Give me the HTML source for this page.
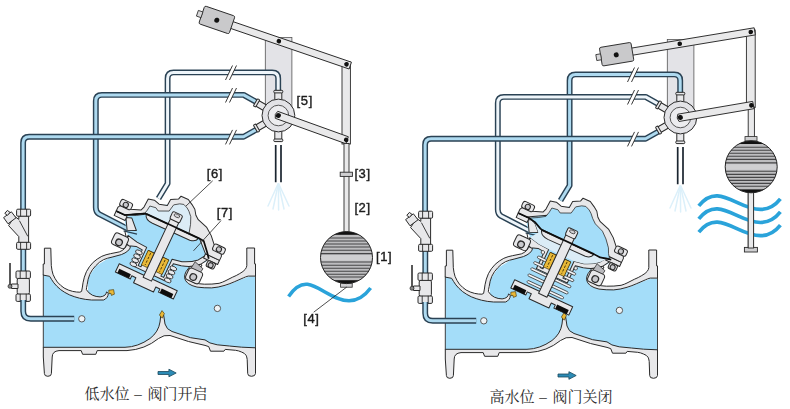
<!DOCTYPE html>
<html>
<head>
<meta charset="utf-8">
<title>Float valve diagram</title>
<style>
html,body{margin:0;padding:0;background:#fff;}
body{width:790px;height:409px;overflow:hidden;font-family:"Liberation Sans",sans-serif;}
svg{display:block;}
.lbl{font-family:"Liberation Sans",sans-serif;font-size:13px;fill:#1c1c1c;stroke:#1c1c1c;stroke-width:0.4;letter-spacing:0.6px;}
.cap{font-family:"Liberation Serif","Noto Serif CJK SC",serif;font-size:15px;fill:#2b2b2b;}
.m{fill:#e8e8ea;stroke:#2a2a2a;stroke-width:1;stroke-linejoin:round;}
.w{fill:#a4ddf9;}
.ol{fill:none;stroke:#2a2a2a;stroke-width:0.9;stroke-linejoin:round;stroke-linecap:round;}
.to{fill:none;stroke:#2a4254;stroke-width:5.9;stroke-linejoin:round;}
.ti{fill:none;stroke:currentColor;stroke-width:3;stroke-linejoin:round;}
.arm{fill:#e9e9ea;stroke:#2a2a2a;stroke-width:0.9;}
.dot{fill:#111;}
</style>
</head>
<body>
<svg width="790" height="409" viewBox="0 0 790 409">
<defs>
<filter id="nf" x="-5%" y="-5%" width="110%" height="110%"><feOffset dx="0" dy="0"/></filter>

  <!-- TUBES (individually colourable through currentColor) -->
  <g id="tubeC"><path class="to" d="M158.5,198.5 L167.6,183.5 V78.4 Q167.6,72.4 173.6,72.4 H272.2 Q278.2,72.4 278.2,78.4 V92"/><path class="ti" stroke="currentColor" d="M158.5,198.5 L167.6,183.5 V78.4 Q167.6,72.4 173.6,72.4 H272.2 Q278.2,72.4 278.2,78.4 V92"/></g>
  <g id="tubeB"><path class="to" d="M134,232 L99,214 Q95.8,212 95.8,207.5 V100.9 Q95.8,94.9 101.8,94.9 H243.6 L257,102.4"/><path class="ti" stroke="currentColor" d="M134,232 L99,214 Q95.8,212 95.8,207.5 V100.9 Q95.8,94.9 101.8,94.9 H243.6 L257,102.4"/></g>
  <g id="tubeA"><path class="to" d="M23.1,210 V142.8 Q23.1,136.8 29.1,136.8 H243.6 L257,129.2"/><path class="ti" stroke="currentColor" d="M23.1,210 V142.8 Q23.1,136.8 29.1,136.8 H243.6 L257,129.2"/>
    <path class="to" d="M23.3,249 V272"/><path class="ti" stroke="currentColor" d="M23.3,249 V272"/>
  </g>
  <g id="tubeA2"><path class="to" d="M23.2,300 V311.3 Q23.2,318.8 30.7,318.8 H74.2" stroke-width="5.2"/><path class="ti" d="M23.2,300 V311.3 Q23.2,318.8 30.7,318.8 H74.2" stroke-width="2.7"/></g>
  <g id="brk">
    <path d="M225.5,80 L232.5,65.5 L236.5,65.5 L229.5,80 Z" fill="#fff"/>
    <path d="M225.5,80 L232.5,65.5 M229.5,80 L236.5,65.5" stroke="#222" stroke-width="0.9" fill="none"/>
  </g>
  <g id="brks"><use href="#brk"/><use href="#brk" transform="translate(0,22.5)"/><use href="#brk" transform="translate(0,64.4)"/></g>
<rect id="bp" x="265.3" y="37.5" width="26.6" height="80" fill="#e3e3e7" stroke="#555" stroke-width="0.8"/>


<!-- ===== moving parts (drawn in actuator local frame; origin = open position) ===== -->
<g id="spring4">
  <g fill="#e9e9ec" stroke="#2a2a2a" stroke-width="0.8">
    <ellipse cx="-19" cy="27.2" rx="3.6" ry="2"/><ellipse cx="-19" cy="31.6" rx="3.6" ry="2"/><ellipse cx="-19" cy="36" rx="3.6" ry="2"/><ellipse cx="-19" cy="40.4" rx="3.6" ry="2"/>
    <ellipse cx="19" cy="27.2" rx="3.6" ry="2"/><ellipse cx="19" cy="31.6" rx="3.6" ry="2"/><ellipse cx="19" cy="36" rx="3.6" ry="2"/><ellipse cx="19" cy="40.4" rx="3.6" ry="2"/>
  </g>
</g>
<g id="moving">
  <!-- diaphragm plate (lens) -->
  <path class="m" d="M-28.5,-10.3 Q-27,-5 -19,-4.8 L22,-5.3 Q28,-6 29,-10.3 Z"/>
  <!-- valve disc -->
  <path class="m" d="M-32,45.8 H32 V55 H15.5 V51.5 H11 V57 H-11 V51.5 H-15.5 V55 H-32 Z"/>
  <rect x="-29.8" y="50.4" width="12.8" height="4.6" fill="#0d0d0d"/>
  <rect x="17" y="50.4" width="12.8" height="4.6" fill="#0d0d0d"/>
  <!-- stem + nut -->
  <rect x="-4.6" y="-17" width="9.2" height="65" class="m"/>
  <rect x="-5.4" y="-24.5" width="10.8" height="8.2" rx="1.6" class="m"/>
  <ellipse cx="0" cy="-22" rx="3" ry="1.6" fill="#d2d2d6" stroke="#2a2a2a" stroke-width="0.7"/>
</g>

<!-- ===== float ball (centred at 0,0, r=26) ===== -->
<clipPath id="fclip"><circle cx="0" cy="0" r="26"/></clipPath>
<g id="float">
  <circle cx="0" cy="0" r="26" fill="#bdbdbf"/>
  <g clip-path="url(#fclip)">
    <rect x="-27" y="-27" width="54" height="4.2" fill="#111"/>
    <rect x="-27" y="22.6" width="54" height="6" fill="#111"/>
    <g stroke="#454547" stroke-width="1.15">
      <path d="M-27,-19.6 H27 M-27,-16.6 H27 M-27,-13.6 H27 M-27,-10.6 H27 M-27,-7.4 H27 M-27,-4 H27 M-27,4.4 H27 M-27,7.6 H27 M-27,10.6 H27 M-27,13.6 H27 M-27,16.6 H27 M-27,19.4 H27"/>
    </g>
    <rect x="-27" y="-2.6" width="54" height="5.6" fill="#cfcfd1"/>
  </g>
  <circle cx="0" cy="0" r="26" fill="none" stroke="#222" stroke-width="1"/>
</g>
<!-- ===== VALVE BODY (shared) ===== -->
<g id="valve">
  <!-- water: whole interior -->
  <path class="w" d="M43.3,274.6 L50,276 L54,282 L62,290 L80,297.5 L88,294 L88,278 L96,266 L112,256 L125,250 L128,236 L124,218 L150,207 L178,203 L196,216 L208,240 L212,252 L206,262 L190,266 L185,276 L188,284 L197,287.5 L225,286 L241,279.5 L249,276.6 L255.5,276.6 V348.5 L212,345.5 L190,338.5 L166.5,330 L160,335 L140,345 L120,348 H43.3 Z"/>
  <!-- upper-left wall: flange + web + neck + seat lip -->
  <path class="m" d="M44.4,248.2 H50.8 L51.3,265.7 Q51.8,270.5 53,274.3 Q54.8,278.6 57.3,282 Q60.4,285.5 64.1,288 Q68,290.3 72.7,291.4 Q76.5,292.2 79.9,292.2 L81.6,291.4 Q82.5,287 83,282.8 Q84,277 86.4,271.7 Q89,266.5 93.2,262.3 Q97,258.8 101.8,256.3 Q106,254.5 110.4,253.7 L119.3,251.9 Q125.5,249.5 126.6,244.5 L130.6,246.5 Q129.5,251.5 121.4,254.6 L112.1,257.1 Q107.5,258 103.5,259.7 Q99,262 95.8,265.7 Q92,269.5 89.8,274.3 Q87.8,279 87.2,284.5 Q86.4,287.5 86.4,289.7 Q88.5,293.2 92.4,295.2 Q96,296.8 100.1,296.9 Q103,296.6 104.9,295.2 Q106.2,293.8 106.6,291.9 L108.3,293.4 Q108.2,295.8 107,297.4 Q105.5,299.4 103.5,300 L91.5,300 Q85,299.6 79.5,298.2 Q74,296.8 69.3,294.8 Q64.5,292.5 60.7,289.7 Q56.5,286.3 53.8,282.8 Q51.5,279.5 49.6,276.3 L43.2,275.1 V264 H44.4 Z"/>
  <!-- seat ring (yellow) upper-left -->
  <path d="M108.8,290.2 L113.6,289.6 L114.4,294.2 L111.4,295.4 L111,293.4 L108.9,293.6 Z" fill="#e9b938" stroke="#3a2a00" stroke-width="0.6"/>
  <!-- bottom wall -->
  <path class="m" d="M43.3,347.3 H125 Q138,347 150,338.5 Q158.5,332 160,322 L161,313.5 L163.6,314.8 L165,324 Q166.5,329.6 172,331.5 L190.6,337.7 L205,339.9 L209.9,342.9 L217.2,344.8 L229.4,346 L241.7,347.2 L255.5,347.8
     V373.5 Q255.3,376.3 251.5,376.3 Q247.7,376.3 247.7,373.5 L247.2,359.4 Q246.8,356.5 246,355.2 Q244.5,353 241.7,352.1 Q238.5,350.6 235.6,350.3 L225.2,349.4 L223.9,351.2 H210.5 L208.7,346.6 L205,345.4 L188.5,341.5 L170,335.5 Q164,334.5 158.5,338.5 Q145,349.5 127,350.6 H97.2 L95.8,354.3 H82.6 L81.2,350.6 H59 Q52.2,351.2 52.2,357 L51.4,373.5 Q51.4,376.3 47.8,376.3 Q44.4,376.3 44.4,373.5 L43.3,357 Z"/>
  <!-- seat ring lower-right -->
  <path d="M159.4,315 L162,310.6 L164.4,313.6 L162.2,318.2 Z" fill="#e9b938" stroke="#3a2a00" stroke-width="0.6"/>
  <!-- upper-right wall with hook -->
  <path class="m" d="M246.8,248 H254.6 V263.9 H255.5 V276.1 H248.2 Q245.5,276.8 243.3,277.9 L234.8,281.6 Q230,283.8 225,285.3 Q218,287.5 211.7,287.9 Q204,288 197,287.1 Q191.5,285.8 188.2,283.5 Q185,281 184.5,277.6 Q184.6,274 186,271.7 L189.7,266.6 L200,262.5 L202,266 L193,269.5 L189.8,273.5 Q188.5,276.5 189.7,279.1 Q191.5,281.8 194.1,282.7 Q199,284 204.4,284.2 Q212,284.4 219.1,283.3 Q222.5,282.3 225,281 L232.3,277.3 Q236.5,275.6 239.7,273.6 Q243.5,271.5 245.2,269.4 Q246.6,267.6 246.8,265.7 Z"/>
  <!-- tube B passage through the neck -->
  <path d="M123.6,230.8 L137,234.2" stroke="#2a4254" stroke-width="1.2" fill="none"/>
  <path d="M124.9,231.4 L126,236.4" stroke="#2a2a2a" stroke-width="1" fill="none"/>
  <!-- port holes -->
  <circle cx="81.8" cy="318.8" r="3.2" fill="#eef3f6" stroke="#4a4a4a" stroke-width="0.9"/>
  <circle cx="217.4" cy="308.4" r="3.2" fill="#eef3f6" stroke="#4a4a4a" stroke-width="0.9"/>
  <!-- flange face lines -->
  <path class="ol" d="M43.3,275.1 V347.3 M255.5,276.1 V347.9"/>

  <!-- ===== ACTUATOR, local frame ===== -->
  <g transform="translate(167.6,235.7) rotate(25)">
    <!-- partition (stem guide plate) -->
    <path class="m" d="M-36,16.5 L-25,18.8 L-14,19.4 V39.5 H-11 V21.5 H11 V39.5 H14 V19.4 L24,17.5 Q32,14.5 38,9 L43,1.5 L47,4 L42,12 Q36,18.5 25,21.5 L17,23 V42 H-17 V23.5 L-24,23 L-31,25.5 L-36,24 Z"/>
    <!-- shaded stud right -->
    <path d="M36,12 L46,15 L45,21 L35,19 Z" fill="#b9b9bd" stroke="#2a2a2a" stroke-width="0.7"/>
    <!-- nuts (left / right) -->
    <rect x="-48.5" y="18.5" width="15" height="12.5" rx="3" class="m"/>
    <circle cx="-41.2" cy="26.6" r="3.3" fill="#c9c9cd" stroke="#2a2a2a" stroke-width="1.3"/>
    <rect x="33.5" y="19" width="15" height="12.5" rx="3" class="m"/>
    <circle cx="40.7" cy="26.6" r="3.3" fill="#c9c9cd" stroke="#2a2a2a" stroke-width="1.3"/>
    <!-- yellow bushing -->
    <rect x="-11.4" y="21.5" width="6.8" height="16" fill="#e9b938" stroke="#3a2a00" stroke-width="0.6"/>
    <rect x="4.6" y="21.5" width="6.8" height="16" fill="#e9b938" stroke="#3a2a00" stroke-width="0.6"/>
    <path d="M-8,23 V36 M8,23 V36" stroke="#3a2a00" stroke-width="0.8" stroke-dasharray="2.5 1.5" fill="none"/>
    <!-- neck wedge left (cross-section) -->
    <path class="m" d="M-45.5,1 L-40,-1 L-30.5,8.5 L-39,12.2 Z"/>
    <!-- lower flange left -->
    <path class="m" d="M-57,-0.6 H-45 V4.2 H-57 Z"/>
    <!-- lower flange right + nut -->
    <path class="m" d="M42,0.4 H57.5 V5 H42 Z"/>
    <rect x="47.2" y="5" width="8.6" height="6.4" rx="2" class="m"/>
    <circle cx="51.5" cy="8.6" r="2.5" fill="#c9c9cd" stroke="#2a2a2a" stroke-width="1.1"/>
    <!-- bonnet -->
    <path class="m" d="M-57,-0.6 V-5 L-55.5,-7.5 L-45,-8.3 L-35,-12 L-33.5,-16 L-33,-25 L-27,-26.6 L-21,-25 L-13,-27.2 L-12.5,-34 L-5.5,-38 L-4.5,-41.5 L3.5,-41.5 L9,-38.5 L13.5,-35.5 L17,-30.5 L21,-27.5 L32,-24 L39.5,-18.5 L47,-10.5 L56,-7 L57.5,-4 V0.4 H42 L30,-11 L-29.5,-11 L-47.5,-0.6 Z"/>
    <!-- bolt heads -->
    <rect x="-57" y="-14.2" width="12.5" height="7" rx="2.2" class="m"/>
    <circle cx="-50.9" cy="-10.2" r="2.6" fill="#c9c9cd" stroke="#2a2a2a" stroke-width="1.1"/>
    <rect x="46" y="-13" width="12.5" height="7" rx="2.2" class="m"/>
    <circle cx="52.3" cy="-9.2" r="2.6" fill="#c9c9cd" stroke="#2a2a2a" stroke-width="1.1"/>
  </g>
</g>
<!-- ===== STATIC PARTS (shared by both diagrams) ===== -->
<g id="static">
  <!-- drain tube + spray -->
  <path d="M275.7,145 V182.3 M281,145 V182.3" stroke="#1a2530" stroke-width="1.7" fill="none"/>
  <g stroke="#dcf0fa" stroke-width="1.5" fill="none" stroke-linecap="round">
    <path d="M278,184 L268,206"/><path d="M278.2,184 L273,209"/><path d="M278.4,184 L278.6,210"/><path d="M278.6,184 L284,209"/><path d="M278.8,184 L289,206"/>
  </g>
  <!-- pilot valve -->
  <g id="pilot">
    <!-- ports -->
    <rect x="274.8" y="90.5" width="7" height="12" class="m"/>
    <rect x="273.8" y="90.3" width="9" height="2.6" rx="1" class="m"/>
    <rect x="274.8" y="129" width="7" height="12" class="m"/>
    <rect x="273.8" y="139" width="9" height="2.6" rx="1" class="m"/>
    <g transform="translate(278.4,115.5) rotate(-60)">
      <rect x="-3.2" y="-26" width="6.4" height="12" class="m"/><rect x="-4.2" y="-26.5" width="8.4" height="2.6" rx="1" class="m"/>
    </g>
    <g transform="translate(278.4,115.5) rotate(-120)">
      <rect x="-3.2" y="-26" width="6.4" height="12" class="m"/><rect x="-4.2" y="-26.5" width="8.4" height="2.6" rx="1" class="m"/>
    </g>
    <circle cx="278.4" cy="115.5" r="16.4" fill="#e2e2e6" stroke="#2a2a2a" stroke-width="1"/>
    <circle cx="278.4" cy="115.5" r="10.3" fill="#ececef" stroke="#444" stroke-width="0.9"/>
  </g>
  <!-- strainer -->
  <g id="strainer">
    <path class="m" d="M18.8,216 H28.6 V242.5 H18.8 V236.6 L8.6,225.6 L14.6,216.4 L18.8,219.4 Z"/>
    <path class="ol" d="M19.6,221 L27.6,236" stroke-width="0.7"/>
    <path class="m" d="M3.6,217.6 L11.4,211.8 L16,217.8 L8,223.8 Z"/>
    <path class="m" d="M4.8,213.4 L7.4,210.4 L10,212.4 L7.4,215.4 Z"/>
    <rect x="16.6" y="209.2" width="14" height="7" rx="1.2" class="m"/>
    <path class="ol" d="M20.6,209.4 V216 M26.6,209.4 V216" stroke-width="0.6"/>
    <rect x="16.6" y="242.3" width="14" height="7" rx="1.2" class="m"/>
    <path class="ol" d="M20.6,242.5 V249 M26.6,242.5 V249" stroke-width="0.6"/>
  </g>
  <!-- ball valve -->
  <g id="ballvalve">
    <rect x="17.2" y="278" width="12.2" height="16.5" rx="2" class="m"/>
    <rect x="16" y="271" width="14.4" height="7.4" rx="1.2" class="m"/>
    <path class="ol" d="M20.2,271.2 V278 M26.2,271.2 V278" stroke-width="0.6"/>
    <rect x="16" y="294" width="14.4" height="7.4" rx="1.2" class="m"/>
    <path class="ol" d="M20.2,294.2 V301 M26.2,294.2 V301" stroke-width="0.6"/>
    <path d="M10,263 V284.5" stroke="#222" stroke-width="1.5" fill="none"/>
    <path class="m" d="M11.5,284 H18 V288.5 H11.5 Z"/>
    <circle cx="10" cy="286.3" r="2" fill="#888" stroke="#222" stroke-width="0.7"/>
  </g>
</g>
</defs>

<!-- ================= LEFT DIAGRAM ================= -->
<g id="L">
  <use href="#bp"/>
  <use href="#tubeC" color="#eef5fa"/>
  <use href="#tubeB" color="#aedaf0"/>
  <use href="#tubeA" color="#aedaf0"/>
  <use href="#brks"/>
  <use href="#static"/>
  <use href="#valve"/>
  <use href="#tubeA2" color="#aedaf0"/>
  <g transform="translate(167.6,235.7) rotate(25)">
    <!-- upper chamber (drained) -->
    <path d="M-47.5,-0.6 L-37,-5 L-30.5,-9.3 L-29.2,-14.5 L-28.6,-19.4 L-22.4,-20.4 L-19,-18.4 L-9,-23 L-7.5,-30.5 L-2.5,-34 L1.5,-35.2 L6,-33.4 L9,-31.2 L13,-27 L16,-20 L18.5,-11 L-29.5,-11 Z" fill="#dbecf6" stroke="#2a2a2a" stroke-width="0.7" stroke-linejoin="round"/>
    <use href="#spring4"/>
    <use href="#moving"/>
    <!-- diaphragm (black) -->
    <path d="M-56.5,-0.7 L-47.5,-0.7 L-31,-10 L-28,-10.9 L29,-10.9 L35,-10.4 L43,-1.5 L47,3.5" fill="none" stroke="#0d0d0d" stroke-width="1.7" stroke-linejoin="round"/>
  </g>
  <!-- lever mechanism (float low) -->
  <g id="Lmech">
    <!-- vertical link -->
    <rect x="342" y="62" width="8.4" height="82" class="arm"/>
    <!-- float rod -->
    <rect x="344" y="143.5" width="5" height="89" class="arm"/>
    <rect x="340.2" y="172.2" width="12.2" height="4.2" fill="#cfcfd1" stroke="#2a2a2a" stroke-width="0.9"/>
    <!-- upper arm with counterweight -->
    <g transform="translate(346.5,64.3) rotate(18.9)">
      <rect x="-125" y="-3.6" width="129" height="7.2" class="arm"/>
      <rect x="-153" y="-9.4" width="32" height="18.8" rx="1.6" fill="#c9c9cb" stroke="#2a2a2a" stroke-width="0.9"/>
      <rect x="-157.6" y="-3" width="4.8" height="6" fill="#d8d8da" stroke="#2a2a2a" stroke-width="0.8"/>
      <circle cx="-137" cy="0.3" r="2.5" class="dot"/>
      <circle cx="-71.5" cy="0" r="2.3" class="dot"/>
      <circle cx="0" cy="0" r="2.3" class="dot"/>
    </g>
    <!-- lower arm -->
    <g transform="translate(278.4,115.5) rotate(19.8)">
      <path class="arm" d="M-2,-3.7 H73 V3.7 H-2 Q-4.5,0 -2,-3.7 Z"/>
      <circle cx="0" cy="0" r="2.5" class="dot"/>
      <circle cx="72" cy="0" r="2.3" class="dot"/>
    </g>
    <!-- float -->
    <rect x="340.6" y="283" width="11.6" height="4.2" fill="#cfcfd1" stroke="#2a2a2a" stroke-width="0.8"/>
    <use href="#float" transform="translate(346.5,257.6)"/>
    <!-- wave -->
    <path d="M288.6,296.4 C295,287 301,283.6 307.5,284.3 C320,286 333,300.5 349,300.8 C358.5,300.6 365.5,295 370.6,288" fill="none" stroke="#2aa3da" stroke-width="3.5" stroke-linecap="butt"/>
  </g>
  <!-- labels -->
  <g class="lbl" filter="url(#nf)">
    <text x="376" y="261.3">[1]</text>
    <text x="354.4" y="212.2">[2]</text>
    <text x="354.4" y="177.6">[3]</text>
    <text x="303.2" y="323.4">[4]</text>
    <text x="296.6" y="105.2">[5]</text>
    <text x="206.8" y="178">[6]</text>
    <text x="216.8" y="216.6">[7]</text>
  </g>
  <g stroke="#222" stroke-width="0.8" fill="none">
    <path d="M346.8,287 L313.7,312.2"/>
    <path d="M212.7,180.8 L186,206"/>
    <path d="M221,220.6 L193.5,250.8"/>
  </g>
</g>
<!-- ================= RIGHT DIAGRAM ================= -->
<g id="R" transform="translate(402,2)">
  <use href="#bp"/>
  <use href="#tubeC" color="#aedaf0"/>
  <use href="#tubeB" color="#eef5fa"/>
  <use href="#tubeA" color="#aedaf0"/>
  <use href="#brks"/>
  <use href="#static"/>
  <use href="#valve"/>
  <use href="#tubeA2" color="#aedaf0"/>
  <g transform="translate(167.6,235.7) rotate(25)">
    <!-- upper chamber (pressurised, water) -->
    <path d="M-45,-0.7 L-37,-5 L-30.5,-9.3 L-29.2,-14.5 L-28.6,-19.4 L-22.4,-20.4 L-19,-18.4 L-9,-23 L-7.5,-30.5 L-2.5,-34 L1.5,-35.2 L6,-33.4 L9,-31.2 L13,-27 L17.5,-23.4 L27,-19.8 L33.5,-14.2 L39.5,-7.2 L42,-2 L45,2 L36,5 L-30,4.2 Z" fill="#a4ddf9" stroke="#2a2a2a" stroke-width="0.7" stroke-linejoin="round"/>
    <!-- lower control chamber (drained) -->
    <path d="M-45,0.5 L-38,0.2 L-28,5.5 L29,5.5 L38,4.5 L44,2 L38,9 Q32,14.5 24,17.5 L14,19.4 H-14 L-25,18.8 L-36,16.5 L-30.5,8.5 L-40,-1 Z" fill="#dbecf6"/>
    <!-- extended spring (seen as capsules behind the stem) -->
    <g fill="#f4f4f6" stroke="#2a2a2a" stroke-width="0.7">
      <circle cx="-18" cy="24.6" r="1.7"/><circle cx="18.5" cy="25.2" r="1.7"/>
      <rect x="-21" y="29.6" width="9.6" height="2.5" rx="1.25"/><rect x="11.4" y="29.6" width="9.6" height="2.5" rx="1.25"/>
      <rect x="-22" y="36.2" width="10.6" height="2.5" rx="1.25"/><rect x="11.4" y="36.2" width="10.6" height="2.5" rx="1.25"/>
      <rect x="-22" y="43" width="44" height="2.5" rx="1.25"/>
      <rect x="-22" y="49.8" width="44" height="2.5" rx="1.25"/>
      <rect x="-20" y="56.2" width="40" height="2.5" rx="1.25"/>
    </g>
    <use href="#moving" transform="translate(0,15.5)"/>
    <!-- diaphragm (black) -->
    <path d="M-56.5,-0.7 L-45,-0.7 L-38,0.5 L-30,4.2 L-28,4.6 L29,4.6 L36,5 L42,3.5 L47,2.2" fill="none" stroke="#0d0d0d" stroke-width="1.7" stroke-linejoin="round"/>
  </g>
  <g id="Rmech">
    <!-- vertical link -->
    <rect x="344.4" y="28" width="8.8" height="77.5" class="arm"/>
    <!-- float rod (above float) -->
    <rect x="346.2" y="105" width="6.2" height="31" class="arm"/>
    <!-- rod below float + foot -->
    <rect x="346.2" y="189" width="5.4" height="57" class="arm"/>
    <rect x="342.4" y="245.4" width="13" height="4.6" fill="#cfcfd1" stroke="#2a2a2a" stroke-width="0.9"/>
    <!-- upper arm with counterweight -->
    <g transform="translate(348.8,30) rotate(-9.4)">
      <rect x="-122" y="-3.6" width="126" height="7.2" class="arm"/>
      <rect x="-152" y="-9.4" width="32" height="18.8" rx="1.6" fill="#c9c9cb" stroke="#2a2a2a" stroke-width="0.9"/>
      <rect x="-156.6" y="-3" width="4.8" height="6" fill="#d8d8da" stroke="#2a2a2a" stroke-width="0.8"/>
      <circle cx="-136.5" cy="0.6" r="2.5" class="dot"/>
      <circle cx="-72" cy="0" r="2.3" class="dot"/>
      <circle cx="0" cy="0" r="2.3" class="dot"/>
    </g>
    <!-- lower arm -->
    <g transform="translate(278.4,115.5) rotate(-9.7)">
      <path class="arm" d="M-2,-3.7 H74 V3.7 H-2 Q-4.5,0 -2,-3.7 Z"/>
      <circle cx="0" cy="0" r="2.5" class="dot"/>
      <circle cx="72" cy="0" r="2.3" class="dot"/>
    </g>
    <!-- waves (behind rod? in front) -->
    <g fill="none" stroke="#2aa3da" stroke-width="3.7">
      <path id="wv" d="M296.8,203.8 C303,196 309,193.5 315.4,193.8 C329,194.6 342,207.2 358.5,207.4 C367,207.3 373.5,203 378.4,196.8"/>
      <use href="#wv" transform="translate(0,13.1)"/>
      <use href="#wv" transform="translate(0,26.3)"/>
    </g>
    <rect x="346.2" y="189" width="5.4" height="57" class="arm"/>
    <!-- float -->
    <rect x="343" y="134.6" width="12" height="4.4" fill="#cfcfd1" stroke="#2a2a2a" stroke-width="0.8"/>
    <use href="#float" transform="translate(349.2,164.8)"/>
  </g>
</g>

<!-- captions -->
<text class="cap" y="399.2"><tspan x="84.6">低水位</tspan><tspan x="134.3">–</tspan><tspan x="147.4">阀门开启</tspan></text>
<text class="cap" y="402.2"><tspan x="489.6">高水位</tspan><tspan x="539.3">–</tspan><tspan x="552.6">阀门关闭</tspan></text>
<!-- flow arrows -->
<path id="arw" d="M158,371.5 H168.9 V369.2 L176.2,373 L168.9,376.8 V374.5 H158 Z" fill="#2c8bb5" stroke="#1b475c" stroke-width="0.8" stroke-linejoin="round"/>
<use href="#arw" transform="translate(400,2.5)"/>

</svg>
</body>
</html>
